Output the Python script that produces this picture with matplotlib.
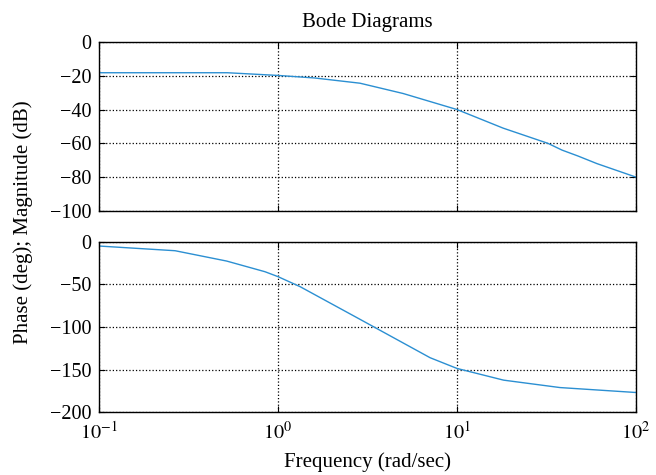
import numpy as np
import matplotlib.pyplot as plt

plt.rcParams['font.family'] = ['Liberation Serif', 'DejaVu Serif']
plt.rcParams['mathtext.fontset'] = 'stix'

# magnitude curve
mag_freq = [0.1, 0.2, 0.52, 1.0, 1.6, 2.87, 5.0, 10.0, 18.1, 32.2, 38.6, 47.4, 60.5, 100.0]
mag_db = [-18.2, -18.2, -18.2, -19.8, -21.3, -24.4, -30.5, -40.0, -51.0, -60.0, -64.0, -67.5, -72.0, -80.0]

# phase curve
ph_freq = [0.1, 0.266, 0.516, 0.845, 1.0, 1.33, 2.87, 7.07, 10.0, 18.2, 37.6, 100.0]
ph_deg = [-5.1, -10.6, -22.7, -35.2, -41.0, -52.8, -91.0, -136.0, -148.6, -162.3, -171.0, -176.8]

mag_ticks = [0, -20, -40, -60, -80, -100]
ph_ticks = [0, -50, -100, -150, -200]
freq_ticks = [0.1, 1, 10, 100]

line_color = '#2b8fd2'

fig = plt.figure(figsize=(6.56, 4.75), dpi=100)
ax1 = fig.add_axes([0.151, 0.556, 0.8185, 0.3556])
ax2 = fig.add_axes([0.151, 0.132, 0.8185, 0.3592])

for ax in (ax1, ax2):
    ax.set_xscale('log')
    ax.set_xlim(0.1, 100)
    ax.set_xticks(freq_ticks)
    ax.minorticks_off()
    ax.grid(True, which='major', linestyle=':', color='black', linewidth=0.9)
    ax.tick_params(direction='in', top=True, right=True, labelsize=14.5, length=4)
    ax.tick_params(axis='y', pad=5.5)
    ax.tick_params(axis='x', pad=7)
    for s in ax.spines.values():
        s.set_linewidth(1.0)

ax1.plot(mag_freq, mag_db, color=line_color, linewidth=1.0)
ax1.set_ylim(-100, 0)
ax1.set_yticks(mag_ticks)
ax1.set_xticklabels([])
ax1.set_title('Bode Diagrams', fontsize=15, pad=11)

ax2.plot(ph_freq, ph_deg, color=line_color, linewidth=1.0)
ax2.set_ylim(-200, 0)
ax2.set_yticks(ph_ticks)
ax2.set_xticklabels([r'$10^{-1}$', r'$10^{0}$', r'$10^{1}$', r'$10^{2}$'])
ax2.set_xlabel('Frequency (rad/sec)', fontsize=15, labelpad=6)

fig.text(0.036, 0.533, 'Phase (deg); Magnitude (dB)', rotation=90,
         va='center', ha='center', fontsize=15)

fig.savefig('out.png', dpi=100)
